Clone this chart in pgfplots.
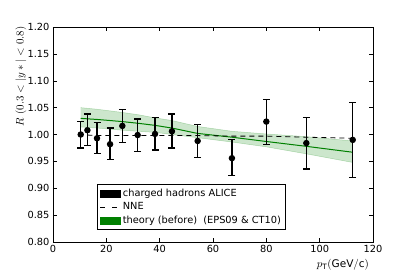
\documentclass[border=0pt]{standalone}
\usepackage{fontspec}
\setmainfont{DejaVu Sans}
\usepackage{pgfplots}
\pgfplotsset{compat=1.18}
\usepgfplotslibrary{fillbetween}
\definecolor{mplgreen}{RGB}{0,128,0}
\begin{document}
\begin{tikzpicture}
\begin{axis}[
  scale only axis, width=320pt, height=215pt,
  xmin=0, xmax=120, ymin=0.80, ymax=1.20,
  xtick={0,20,...,120},
  ytick={0.80,0.85,...,1.20},
  yticklabel style={/pgf/number format/.cd, fixed, fixed zerofill, precision=2},
  /pgf/number format/assume math mode=true,
  ticklabel style={font=\fontsize{9.8}{11}\selectfont},
  tick align=inside, major tick length=4pt,
  tick style={black, line width=0.5pt},
  axis line style={line width=0.8pt},
  xlabel={$p_{\mathrm{T}}\mathrm{(GeV/c)}$},
  xlabel style={at={(rel axis cs:0.906,0)}, anchor=north, yshift=-14pt, font=\fontsize{10.5}{12}\selectfont},
  ylabel={$R\ (0.3<|y*|<0.8)$},
  ylabel style={at={(rel axis cs:0,0.77)}, anchor=south, yshift=23pt, font=\fontsize{10.5}{12}\selectfont},
  legend style={at={(0.1375,0.056)}, anchor=south west, draw=black, line width=0.6pt,
    font=\fontsize{9.8}{11}\selectfont, row sep=0.6pt, inner sep=2.8pt},
  legend cell align=left,
]
% legend entries
\addlegendimage{legend image code/.code={\fill[black] (0pt,-3.5pt) rectangle (20pt,3.5pt);}}
\addlegendentry{charged hadrons ALICE}
\addlegendimage{legend image code/.code={\draw[black, dash pattern=on 5pt off 7pt, line width=0.8pt] (0pt,0pt) -- (20pt,0pt);}}
\addlegendentry{NNE}
\addlegendimage{legend image code/.code={\fill[mplgreen] (0pt,-3.5pt) rectangle (20pt,3.5pt);}}
\addlegendentry{theory (before)\ \ (EPS09 \& CT10)}

% theory band
\addplot[name path=up, draw=mplgreen, draw opacity=0.25, line width=0.5pt, forget plot] coordinates {
(10.4,1.050) (16.5,1.047) (21.4,1.044) (26,1.041) (31.75,1.037) (38.25,1.031) (44.6,1.026) (54.25,1.015) (67.1,1.006) (80,1.001) (95,0.996) (112.4,0.988)};
\addplot[name path=lo, draw=mplgreen, draw opacity=0.25, line width=0.5pt, forget plot] coordinates {
(10.4,1.014) (16.5,1.012) (21.4,1.010) (26,1.008) (31.75,1.006) (38.25,1.004) (44.6,1.000) (54.25,0.994) (67.1,0.986) (80,0.977) (95,0.964) (112.4,0.948)};
\addplot[fill=mplgreen, fill opacity=0.2, draw=none, forget plot] fill between[of=up and lo];
% theory central
\addplot[mplgreen, line width=1pt, forget plot] coordinates {
(10.4,1.030) (16.5,1.028) (21.4,1.026) (26,1.024) (31.75,1.021) (38.25,1.017) (44.6,1.012) (54.25,1.002) (67.1,0.995) (80,0.987) (95,0.978) (112.4,0.967)};
% NNE
\addplot[black, dash pattern=on 5pt off 4pt, line width=0.8pt, forget plot] coordinates {
(12.9,0.999) (16.5,0.998) (21.4,0.998) (26,0.998) (31.75,0.998) (38.25,0.998) (44.6,0.998) (54.25,0.998) (67.1,0.997) (80,0.997) (95,0.995) (112.4,0.993)};
% data
\addplot[black, only marks, mark=*, mark size=2.6pt, line width=1.2pt, forget plot,
  error bars/.cd, y dir=both, y explicit,
  error bar style={line width=1.2pt, black},
  error mark options={rotate=90, mark size=3.5pt, line width=1.2pt, black}]
  table[x=x, y=y, y error plus=ep, y error minus=em] {
x y ep em
10.4 1.000 0.024 0.025
12.9 1.008 0.030 0.029
16.5 0.993 0.030 0.029
21.4 0.982 0.030 0.029
26.0 1.016 0.031 0.031
31.75 0.999 0.030 0.030
38.25 1.001 0.031 0.030
44.6 1.006 0.032 0.031
54.25 0.988 0.031 0.031
67.1 0.956 0.034 0.032
80.0 1.024 0.041 0.042
95.0 0.984 0.048 0.048
112.4 0.990 0.069 0.070
};
\end{axis}
\pgfresetboundingbox
\path (-53pt,-35pt) rectangle (362pt,242pt);
\end{tikzpicture}
\end{document}
